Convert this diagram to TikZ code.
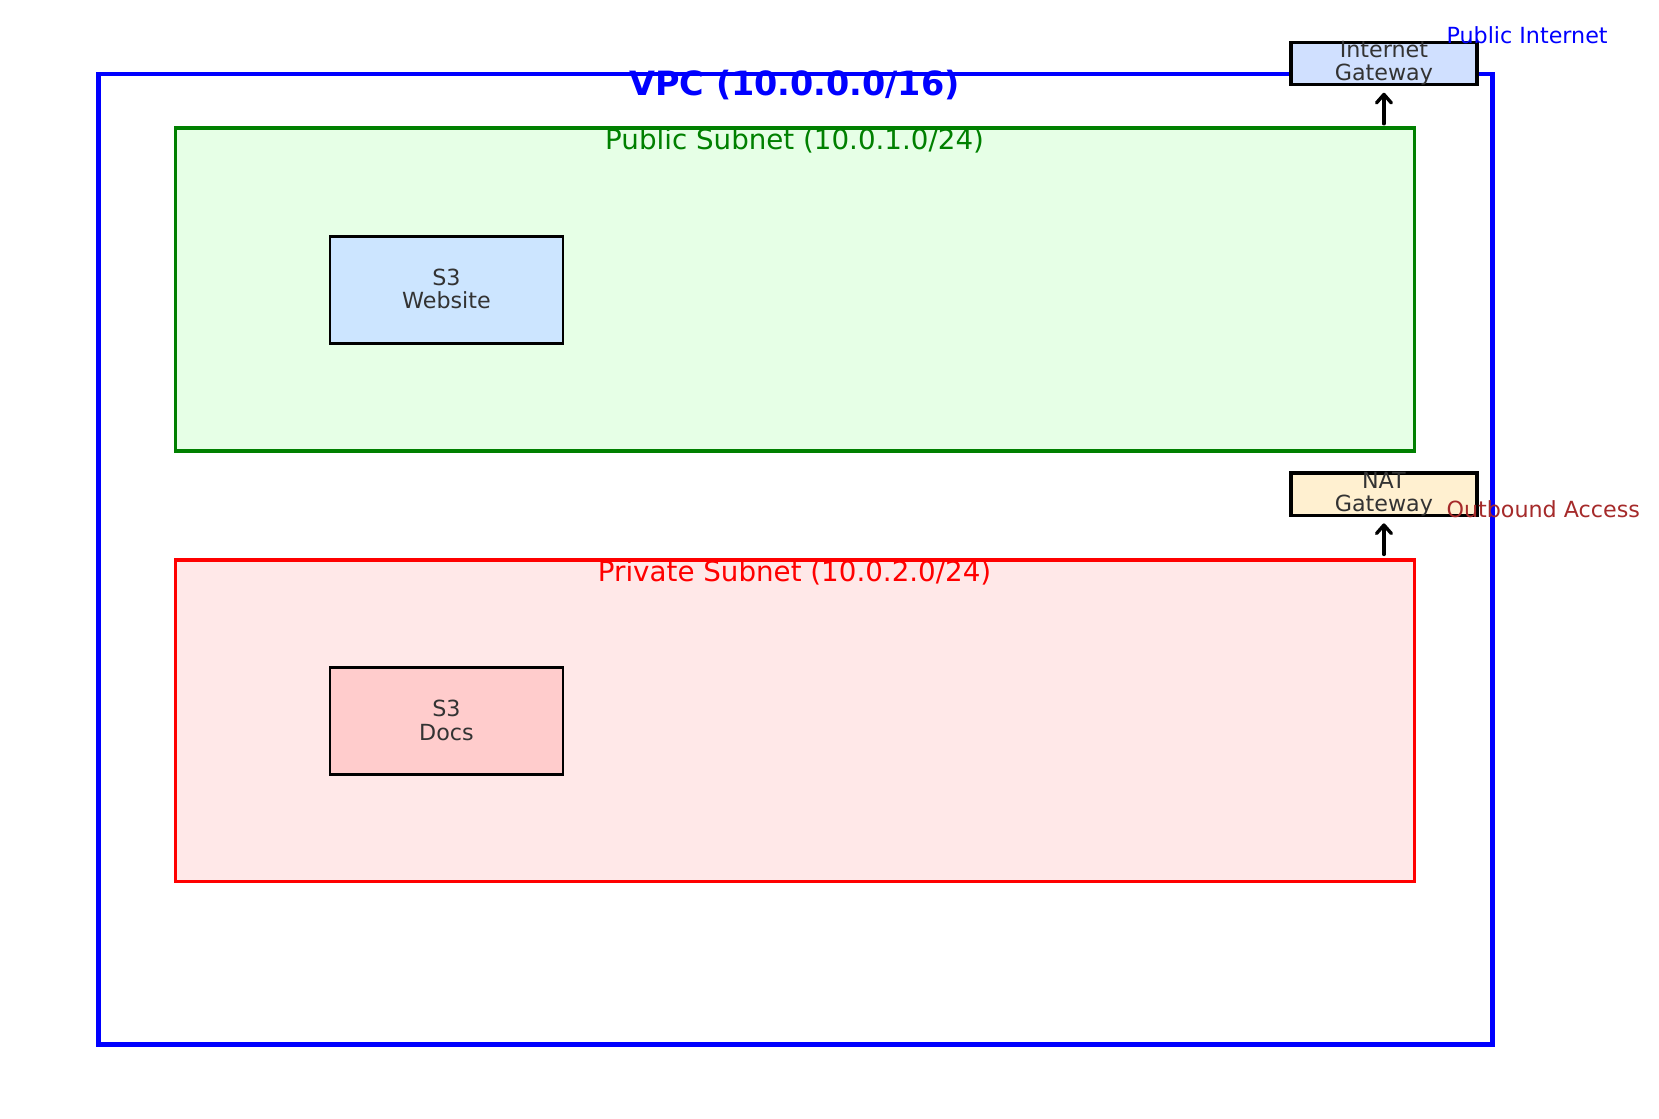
\documentclass[tikz,border=0pt]{standalone}
\usepackage{fontspec}
\setmainfont{DejaVu Sans}
\usetikzlibrary{arrows.meta}
\definecolor{vpcblue}{RGB}{0,0,255}
\definecolor{pubgreen}{RGB}{0,128,0}
\definecolor{pubfill}{RGB}{230,255,230}
\definecolor{privred}{RGB}{255,0,0}
\definecolor{privfill}{RGB}{255,232,232}
\definecolor{webfill}{RGB}{204,229,255}
\definecolor{docsfill}{RGB}{255,204,204}
\definecolor{igwfill}{RGB}{208,224,255}
\definecolor{natfill}{RGB}{255,240,208}
\definecolor{txtgray}{RGB}{51,51,51}
\definecolor{brownred}{RGB}{165,42,42}
\begin{document}
\begin{tikzpicture}[x=1pt,y=-1pt,
  container/.style={draw, rectangle, inner sep=0pt},
  svc/.style={draw=black, line width=2.6pt, rectangle, inner sep=0pt, minimum width=220pt, minimum height=101pt},
  gw/.style={draw=black, line width=3.3pt, rectangle, inner sep=0pt, minimum width=176pt, minimum height=40pt},
  boxtext/.style={text=txtgray, align=center, font=\fontsize{21}{22}\selectfont},
  sublabel/.style={inner sep=0pt, font=\fontsize{26.2}{28}\selectfont},
  sidelabel/.style={inner sep=0pt, anchor=west, font=\fontsize{21}{22}\selectfont},
  flow/.style={draw=black, line width=3.2pt, line cap=round, -{Straight Barb[length=8pt,width=14pt,line cap=round,line join=round]}}
]
\useasboundingbox (0,0) rectangle (1568,1057);
% containers
\node[container, draw=vpcblue, line width=4.6pt, minimum width=1318pt, minimum height=917pt] (vpc) at (752,528.5) {};
\node[container, draw=pubgreen, fill=pubfill, line width=3.5pt, minimum width=1171pt, minimum height=305pt] (pub) at (751.5,273.5) {};
\node[container, draw=privred, fill=privfill, line width=3.5pt, minimum width=1171pt, minimum height=304pt] (priv) at (751.5,681) {};
% titles
\node[sublabel, text=vpcblue, font=\bfseries\fontsize{31.6}{33}\selectfont] (vpct) at (751,80) {VPC (10.0.0.0/16)};
\node[sublabel, text=pubgreen] (pubt) at (751,133) {Public Subnet (10.0.1.0/24)};
\node[sublabel, text=privred] (privt) at (751,541) {Private Subnet (10.0.2.0/24)};
% services
\node[svc, fill=webfill] (web) at (422,274) {};
\node[boxtext] (webt) at (422,273) {S3\\Website};
\node[svc, fill=docsfill] (docs) at (422,681.5) {};
\node[boxtext] (docst) at (422,681) {S3\\Docs};
% gateways
\node[gw, fill=igwfill] (igw) at (1308,60) {};
\node[boxtext] (igwt) at (1308,60) {Internet\\Gateway};
\node[gw, fill=natfill] (nat) at (1308,467) {};
\node[boxtext] (natt) at (1308,467) {NAT\\Gateway};
% side labels
\node[sidelabel, text=vpcblue] (pubnet) at (1367,33) {Public Internet};
\node[sidelabel, text=brownred] (outb) at (1367,481) {Outbound Access};
% arrows
\coordinate (a1) at (1308,117);
\coordinate (a2) at (1308,524);
\draw[flow, shorten >=6pt] (a1) -- (igw.south);
\draw[flow, shorten >=6pt] (a2) -- (nat.south);
\end{tikzpicture}
\end{document}
